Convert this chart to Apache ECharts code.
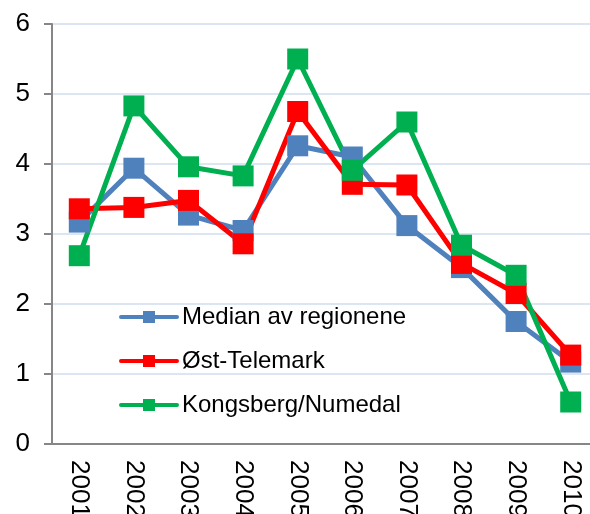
<!DOCTYPE html>
<html>
<head>
<meta charset="utf-8">
<script src="https://cdn.jsdelivr.net/npm/echarts@6/dist/echarts.min.js"></script>
<style>
  html, body { margin: 0; padding: 0; background: #fff; }
  #chart { width: 590px; height: 514px; }
</style>
</head>
<body>
<div id="chart"></div>
<script>
const years = ['2001', '2002', '2003', '2004', '2005', '2006', '2007', '2008', '2009', '2010']
const median = [3.17, 3.94, 3.27, 3.05, 4.26, 4.10, 3.12, 2.52, 1.75, 1.17]
const ostTelemark = [3.36, 3.38, 3.48, 2.86, 4.75, 3.71, 3.70, 2.58, 2.15, 1.27]
const kongsberg = [2.69, 4.83, 3.96, 3.83, 5.50, 3.91, 4.60, 2.84, 2.41, 0.60]

const font = 'Liberation Sans, Arial, sans-serif'

const line = (name, data, color) => ({
  name,
  type: 'line',
  data,
  symbol: 'rect',
  symbolSize: 21,
  lineStyle: { color, width: 5 },
  itemStyle: { color },
  animation: false
})

const chart = echarts.init(document.getElementById('chart'))
chart.setOption({
  animation: false,
  grid: { left: 52, right: -8, top: 24, bottom: 70, containLabel: false, outerBoundsMode: 'none' },
  legend: {
    orient: 'vertical',
    left: 119,
    top: 305,
    padding: 0,
    itemGap: 20,
    itemWidth: 56,
    itemHeight: 15,
    lineStyle: { width: 4, cap: 'round' },
    textStyle: { fontFamily: font, fontSize: 24, color: '#000' }
  },
  xAxis: {
    type: 'category',
    data: years,
    boundaryGap: true,
    axisLine: { lineStyle: { color: '#868686', width: 2 } },
    axisTick: { length: 8, lineStyle: { color: '#868686', width: 2 } },
    axisLabel: { rotate: -90, margin: 16, fontFamily: font, fontSize: 26, color: '#000' }
  },
  yAxis: {
    type: 'value',
    min: 0,
    max: 6,
    interval: 1,
    axisLine: { show: true, lineStyle: { color: '#868686', width: 2 } },
    axisTick: { show: true, length: 8, lineStyle: { color: '#868686', width: 2 } },
    axisLabel: { margin: 22, fontFamily: font, fontSize: 26, color: '#000' },
    splitLine: { lineStyle: { color: '#DCE6F2', width: 2 } }
  },
  series: [
    line('Median av regionene', median, '#4F81BD'),
    line('Øst-Telemark', ostTelemark, '#FF0000'),
    line('Kongsberg/Numedal', kongsberg, '#00B050')
  ]
})
</script>
</body>
</html>
